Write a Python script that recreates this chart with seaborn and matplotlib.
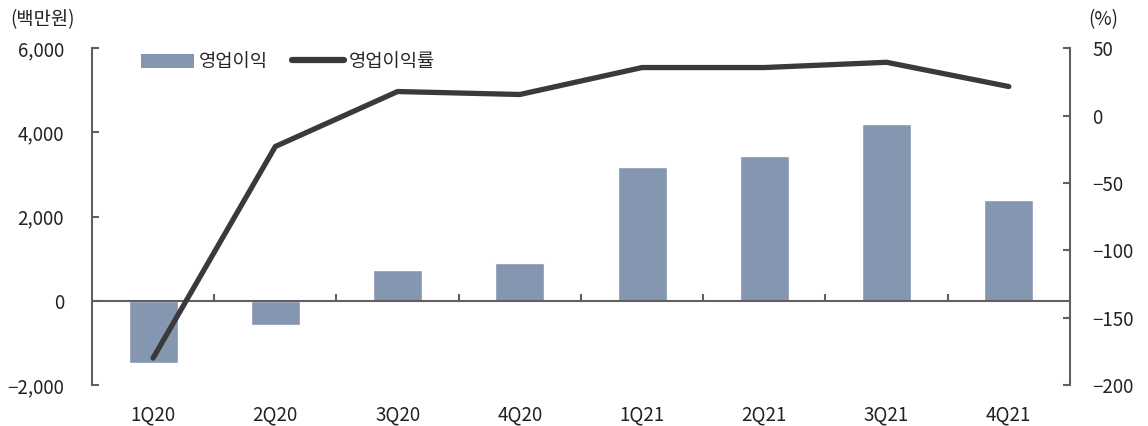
import numpy as np
import pandas as pd
import matplotlib
matplotlib.use("Agg")
import matplotlib.pyplot as plt
from matplotlib.patches import Patch
from matplotlib.lines import Line2D
import seaborn as sns

quarters = ["1Q20", "2Q20", "3Q20", "4Q20", "1Q21", "2Q21", "3Q21", "4Q21"]
operating_profit = [-1480, -570, 720, 900, 3170, 3430, 4190, 2400]   # 백만원
operating_margin = [-180.0, -23.0, 17.8, 15.6, 35.6, 35.6, 39.5, 21.5]  # %

left_ticks = [-2000, 0, 2000, 4000, 6000]
right_ticks = [-200, -150, -100, -50, 0, 50]

sns.set_theme(style="white")
plt.rcParams["font.family"] = ["Noto Sans CJK KR", "DejaVu Sans"]
plt.rcParams["axes.unicode_minus"] = True

BAR_COLOR = "#8496b0"
LINE_COLOR = "#3a3a3a"
SPINE_COLOR = "#606060"
TEXT_COLOR = "#222222"
FS = 13.5

df = pd.DataFrame({"quarter": quarters,
                   "profit": operating_profit,
                   "margin": operating_margin})

fig = plt.figure(figsize=(11.48, 4.26), dpi=100)
ax = fig.add_axes([0.0801, 0.0962, 0.932 - 0.0801, 0.887 - 0.0962])

sns.barplot(data=df, x="quarter", y="profit", color=BAR_COLOR,
            width=0.4, saturation=1, ax=ax, zorder=2)
ax.set_xlim(-0.5, len(quarters) - 0.5)
ax.set_ylim(-2000, 6000)
ax.set_yticks(left_ticks)
ax.set_yticklabels([f"{v:,}".replace("-", "\u2212") for v in left_ticks])
ax.set_xlabel("")
ax.set_ylabel("")

# zero line acting as the category axis, with boundary ticks pointing up
ax.axhline(0, color=SPINE_COLOR, lw=1.5, zorder=3)
bounds = np.arange(len(quarters) - 1) + 0.5
ax.vlines(bounds, 0, 150, color=SPINE_COLOR, lw=1.5, zorder=3)

for s in ["top", "right", "bottom"]:
    ax.spines[s].set_visible(False)
ax.spines["left"].set_color(SPINE_COLOR)
ax.spines["left"].set_linewidth(1.5)
ax.tick_params(axis="y", direction="in", length=5, width=1.5,
               color=SPINE_COLOR, labelsize=FS, labelcolor=TEXT_COLOR, pad=20,
               left=True)
ax.tick_params(axis="x", length=0, labelsize=FS, labelcolor=TEXT_COLOR, pad=14)

ax2 = ax.twinx()
sns.lineplot(data=df, x="quarter", y="margin", color=LINE_COLOR, lw=3.8,
             ax=ax2, solid_capstyle="round", sort=False)
ax2.set_ylim(-200, 50)
ax2.set_yticks(right_ticks)
ax2.set_yticklabels([str(v).replace("-", "\u2212") for v in right_ticks])
ax2.set_ylabel("")
ax2.set_xlabel("")
for s in ["top", "left", "bottom"]:
    ax2.spines[s].set_visible(False)
ax2.spines["right"].set_color(SPINE_COLOR)
ax2.spines["right"].set_linewidth(1.5)
ax2.tick_params(axis="y", direction="in", length=5, width=1.5,
                color=SPINE_COLOR, labelsize=FS, labelcolor=TEXT_COLOR, pad=16,
                right=True)

# unit captions
fig.text(0.009, 0.955, "(백만원)", fontsize=FS, color=TEXT_COLOR,
         ha="left", va="center")
fig.text(0.948, 0.955, "(%)", fontsize=FS, color=TEXT_COLOR,
         ha="left", va="center")

handles = [Patch(facecolor=BAR_COLOR, edgecolor="none", label="영업이익"),
           Line2D([0], [0], color=LINE_COLOR, lw=4.5, solid_capstyle="round",
                  label="영업이익률")]
ax2.legend(handles=handles, loc="upper left", bbox_to_anchor=(0.033, 1.041),
           ncol=2, frameon=False, fontsize=FS, handlelength=2.8,
           handleheight=0.75, handletextpad=0.25, columnspacing=1.3)

fig.savefig("out.png", dpi=100)
